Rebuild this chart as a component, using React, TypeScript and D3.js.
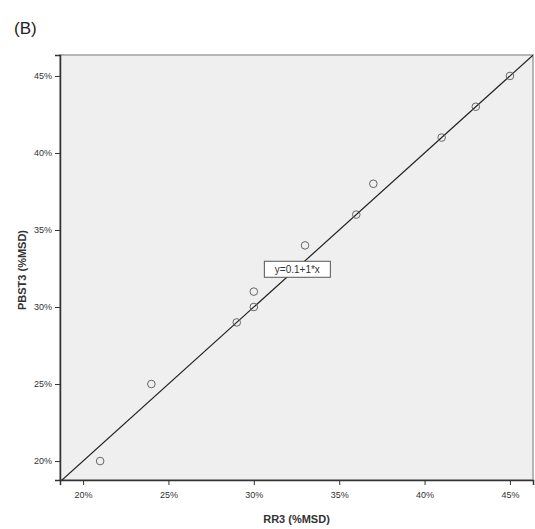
import React, { useRef, useEffect } from 'react';
import * as d3 from 'd3';

// RR3 (x) vs PBST3 (y), both in percent
const rr3Values = [21, 24, 29, 30, 30, 33, 36, 37, 41, 43, 45];
const pbst3Values = [20, 25, 29, 30, 31, 34, 36, 38, 41, 43, 45];
const tickValues = [20, 25, 30, 35, 40, 45];
const fitLabel = 'y=0.1+1*x';

const App = () => {
  const svgRef = useRef<SVGSVGElement>(null);

  useEffect(() => {
    const svg = d3.select(svgRef.current);
    svg.selectAll('*').remove();

    const width = 535;
    const height = 529;
    const margin = { top: 55, right: 2, bottom: 49, left: 60 };

    const x = d3.scaleLinear().domain([18.65, 46.35]).range([margin.left, width - margin.right]);
    const y = d3.scaleLinear().domain([18.77, 46.36]).range([height - margin.bottom, margin.top]);

    svg.append('rect').attr('width', width).attr('height', height).attr('fill', '#ffffff');

    // Panel title
    svg.append('text')
      .attr('x', 14)
      .attr('y', 34)
      .style('font-family', 'Arial, Liberation Sans, sans-serif')
      .style('font-size', '17px')
      .attr('fill', '#222')
      .text('(B)');

    // Plot background
    svg.append('rect')
      .attr('x', margin.left)
      .attr('y', margin.top)
      .attr('width', width - margin.left - margin.right)
      .attr('height', height - margin.top - margin.bottom)
      .attr('fill', '#efefef')
      .attr('stroke', '#b5b5b5')
      .attr('stroke-width', 2);

    svg.append('defs').append('clipPath').attr('id', 'plot-clip')
      .append('rect')
      .attr('x', margin.left)
      .attr('y', margin.top)
      .attr('width', width - margin.left - margin.right)
      .attr('height', height - margin.top - margin.bottom);

    // Fit line
    const lo = 18.65;
    const hi = 46.4;
    svg.append('line')
      .attr('clip-path', 'url(#plot-clip)')
      .attr('x1', x(lo)).attr('y1', y(lo))
      .attr('x2', x(hi)).attr('y2', y(hi))
      .attr('stroke', '#222')
      .attr('stroke-width', 1.2);

    // Points
    const pts = rr3Values.map((v, i) => ({ x: v, y: pbst3Values[i] }));
    svg.append('g').selectAll('circle')
      .data(pts)
      .enter()
      .append('circle')
      .attr('cx', (d) => x(d.x))
      .attr('cy', (d) => y(d.y))
      .attr('r', 3.8)
      .attr('fill', 'none')
      .attr('stroke', '#666')
      .attr('stroke-width', 1);

    // Fit label box
    const lx = x(32.55);
    const ly = y(32.45);
    const lbl = svg.append('g');
    lbl.append('rect')
      .attr('x', lx - 33)
      .attr('y', ly - 8)
      .attr('width', 66)
      .attr('height', 16)
      .attr('fill', '#ffffff')
      .attr('stroke', '#555')
      .attr('stroke-width', 1);
    lbl.append('text')
      .attr('x', lx)
      .attr('y', ly + 3.5)
      .attr('text-anchor', 'middle')
      .style('font-family', 'Arial, Liberation Sans, sans-serif')
      .style('font-size', '10px')
      .attr('fill', '#333')
      .text(fitLabel);

    const fmt = (d: d3.NumberValue) => `${d}%`;

    // x-axis
    const gx = svg.append('g')
      .attr('transform', `translate(0, ${height - margin.bottom})`)
      .call(d3.axisBottom(x).tickValues(tickValues).tickFormat(fmt).tickSizeOuter(0).tickSize(5));
    gx.select('.domain').attr('stroke', '#333').attr('stroke-width', 1.5);
    gx.selectAll('.tick line').attr('stroke', '#333');
    gx.selectAll('text')
      .attr('dy', '1.1em')
      .style('font-family', 'Arial, Liberation Sans, sans-serif')
      .style('font-size', '9px')
      .attr('fill', '#333');

    // y-axis
    const gy = svg.append('g')
      .attr('transform', `translate(${margin.left}, 0)`)
      .call(d3.axisLeft(y).tickValues(tickValues).tickFormat(fmt).tickSizeOuter(0).tickSize(5));
    gy.select('.domain').attr('stroke', '#333').attr('stroke-width', 1.5);
    gy.selectAll('.tick line').attr('stroke', '#333');
    gy.selectAll('text')
      .style('font-family', 'Arial, Liberation Sans, sans-serif')
      .style('font-size', '9px')
      .attr('fill', '#333');

    // Axis titles
    svg.append('text')
      .attr('x', (margin.left + width - margin.right) / 2)
      .attr('y', 523)
      .attr('text-anchor', 'middle')
      .style('font-family', 'Arial, Liberation Sans, sans-serif')
      .style('font-size', '11px')
      .style('font-weight', 'bold')
      .attr('fill', '#333')
      .text('RR3 (%MSD)');

    svg.append('text')
      .attr('transform', 'rotate(-90)')
      .attr('x', -270)
      .attr('y', 26)
      .attr('text-anchor', 'middle')
      .style('font-family', 'Arial, Liberation Sans, sans-serif')
      .style('font-size', '11px')
      .style('font-weight', 'bold')
      .attr('fill', '#333')
      .text('PBST3 (%MSD)');
  }, []);

  return (
    <svg
      ref={svgRef}
      width={535}
      height={529}
      style={{ position: 'absolute', left: 0, top: 0, display: 'block' }}
    ></svg>
  );
};

export default App;
